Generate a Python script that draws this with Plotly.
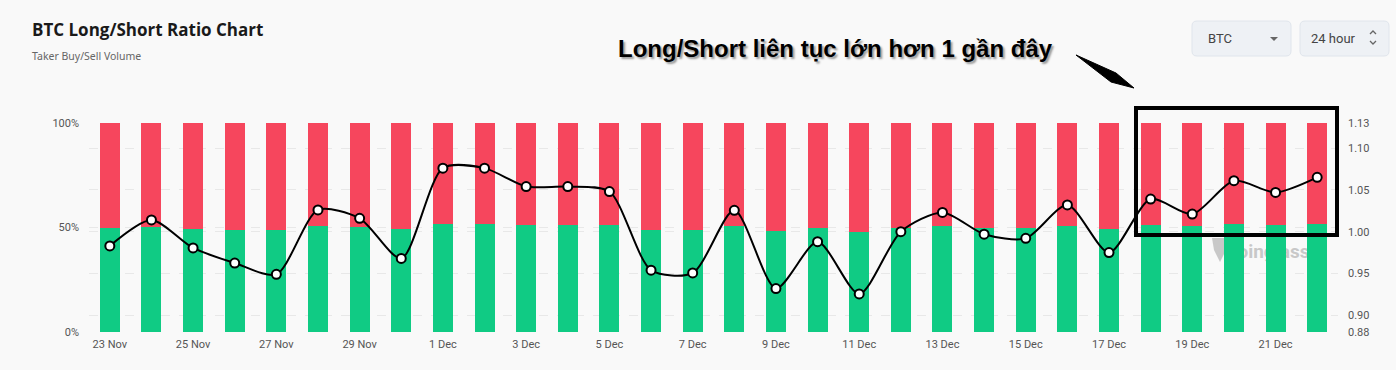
import plotly.graph_objects as go

dates = ["23 Nov", "24 Nov", "25 Nov", "26 Nov", "27 Nov", "28 Nov", "29 Nov", "30 Nov",
         "1 Dec", "2 Dec", "3 Dec", "4 Dec", "5 Dec", "6 Dec", "7 Dec", "8 Dec", "9 Dec",
         "10 Dec", "11 Dec", "12 Dec", "13 Dec", "14 Dec", "15 Dec", "16 Dec", "17 Dec",
         "18 Dec", "19 Dec", "20 Dec", "21 Dec", "22 Dec"]
long_pct = [49.57, 50.35, 49.51, 49.04, 48.69, 50.64, 50.40, 49.19, 51.83, 51.83,
            51.31, 51.31, 51.17, 48.82, 48.73, 50.63, 48.24, 49.70, 48.07, 50.00,
            50.57, 49.92, 49.80, 50.79, 49.37, 50.96, 50.52, 51.48, 51.15, 51.57]
short_pct = [50.43, 49.65, 50.49, 50.96, 51.31, 49.36, 49.60, 50.81, 48.17, 48.17,
             48.69, 48.69, 48.83, 51.18, 51.27, 49.37, 51.76, 50.30, 51.93, 50.00,
             49.43, 50.08, 50.20, 49.21, 50.63, 49.04, 49.48, 48.52, 48.85, 48.43]
ratio = [0.983, 1.014, 0.9805, 0.9625, 0.949, 1.026, 1.016, 0.968, 1.076, 1.076,
         1.054, 1.054, 1.048, 0.954, 0.9506, 1.0256, 0.932, 0.988, 0.9255, 1.000,
         1.023, 0.997, 0.992, 1.032, 0.975, 1.039, 1.021, 1.061, 1.047, 1.065]
left_ticks = [0, 50, 100]
left_labels = ["0%", "50%", "100%"]
right_ticks = [0.88, 0.90, 0.95, 1.00, 1.05, 1.10, 1.13]
right_labels = ["0.88", "0.90", "0.95", "1.00", "1.05", "1.10", "1.13"]

GREEN = "#10cb84"
RED = "#f6465d"
BG = "#f9f9f9"

W, H = 1396, 370
L, R, T, B = 89, 58, 123, 38
PW, PH = W - L - R, H - T - B


def px(x):
    return (x - L) / PW


def py(y):
    return (H - B - y) / PH


idx = list(range(len(dates)))

fig = go.Figure()
fig.add_trace(go.Bar(x=idx, y=long_pct, marker=dict(color=GREEN, line_width=0), name="Long",
                     hoverinfo="skip"))
fig.add_trace(go.Bar(x=idx, y=short_pct, marker=dict(color=RED, line_width=0), name="Short",
                     hoverinfo="skip"))
fig.add_trace(go.Scatter(x=idx, y=ratio, yaxis="y2", mode="lines+markers",
                         line=dict(color="#000000", width=2, shape="spline", smoothing=0.75),
                         marker=dict(size=9, color="#ffffff", line=dict(color="#000000", width=2)),
                         name="Ratio", hoverinfo="skip"))

tick_font = dict(family="Roboto, sans-serif", size=11, color="#555555")

shapes = []
# watermark behind bars
shapes.append(dict(type="rect", xref="paper", yref="paper", x0=px(1232), x1=px(1305),
                   y0=py(262), y1=py(238), line_width=0, fillcolor="rgba(0,0,0,0)", layer="below",
                   label=dict(text="<b>coinglass</b>", font=dict(family="Roboto", size=19, color="#c8c8c8"))))
shapes.append(dict(type="path", xref="paper", yref="paper", layer="below",
                   path="M %f,%f L %f,%f L %f,%f L %f,%f L %f,%f Z" % (
                       px(1212), py(238), px(1228), py(238), px(1226), py(250), px(1220), py(262), px(1214), py(250)),
                   fillcolor="#c8c8c8", line_width=0))
# highlight rectangle
shapes.append(dict(type="rect", xref="paper", yref="paper", x0=px(1136), x1=px(1337),
                   y0=py(235), y1=py(108), line=dict(color="#000000", width=4), fillcolor="rgba(0,0,0,0)"))
# arrow wedge
shapes.append(dict(type="path", xref="paper", yref="paper",
                   path="M %f,%f L %f,%f L %f,%f L %f,%f Z" % (
                       px(1076), py(55), px(1116), py(73), px(1134), py(88), px(1111), py(82)),
                   fillcolor="#000000", line=dict(color="#000000", width=1)))


def rrect(x0, y0, x1, y1, r):
    return ("M %f,%f L %f,%f Q %f,%f %f,%f L %f,%f Q %f,%f %f,%f L %f,%f Q %f,%f %f,%f L %f,%f Q %f,%f %f,%f Z" % (
        px(x0 + r), py(y0), px(x1 - r), py(y0), px(x1), py(y0), px(x1), py(y0 + r),
        px(x1), py(y1 - r), px(x1), py(y1), px(x1 - r), py(y1),
        px(x0 + r), py(y1), px(x0), py(y1), px(x0), py(y1 - r),
        px(x0), py(y0 + r), px(x0), py(y0), px(x0 + r), py(y0)))


for (x0, x1) in [(1192, 1291), (1300, 1389)]:
    shapes.append(dict(type="path", xref="paper", yref="paper", path=rrect(x0, 21, x1, 56, 5),
                       fillcolor="#eef1f5", line=dict(color="#e0e5ec", width=1)))
# caret
shapes.append(dict(type="path", xref="paper", yref="paper",
                   path="M %f,%f L %f,%f L %f,%f Z" % (px(1270), py(37), px(1278), py(37), px(1274), py(41)),
                   fillcolor="#666666", line_width=0))
# up/down chevrons
shapes.append(dict(type="path", xref="paper", yref="paper",
                   path="M %f,%f L %f,%f L %f,%f" % (px(1370), py(34), px(1373), py(31), px(1376), py(34)),
                   line=dict(color="#666666", width=1.3)))
shapes.append(dict(type="path", xref="paper", yref="paper",
                   path="M %f,%f L %f,%f L %f,%f" % (px(1370), py(41), px(1373), py(44), px(1376), py(41)),
                   line=dict(color="#666666", width=1.3)))

annotations = [
    dict(text="<b>BTC Long/Short Ratio Chart</b>", xref="paper", yref="paper", x=px(30), y=py(29),
         xanchor="left", yanchor="middle", showarrow=False,
         font=dict(family="Open Sans, sans-serif", size=17, color="#1a1a1a")),
    dict(text="Taker Buy/Sell Volume", xref="paper", yref="paper", x=px(30), y=py(56),
         xanchor="left", yanchor="middle", showarrow=False,
         font=dict(family="Noto Sans, sans-serif", size=10.5, color="#666666")),
    dict(text="<b>Long/Short liên tục lớn hơn 1 gần đây</b>", xref="paper", yref="paper",
         x=px(835), y=py(48), xanchor="center", yanchor="middle", showarrow=False,
         font=dict(family="Liberation Sans, Arial, sans-serif", size=24, color="#000000",
                   shadow="2px 2px 2px #9a9a9a")),
    dict(text="BTC", xref="paper", yref="paper", x=px(1206), y=py(38.5), xanchor="left", yanchor="middle",
         showarrow=False, font=dict(family="Roboto", size=13, color="#444444")),
    dict(text="24 hour", xref="paper", yref="paper", x=px(1309), y=py(38.5), xanchor="left", yanchor="middle",
         showarrow=False, font=dict(family="Roboto", size=13, color="#444444")),
]

fig.update_layout(
    width=W, height=H,
    margin=dict(l=L, r=R, t=T, b=B, pad=0),
    paper_bgcolor=BG, plot_bgcolor=BG,
    barmode="stack", bargap=0.52,
    showlegend=False,
    xaxis=dict(range=[-0.5, len(dates) - 0.5], tickmode="array",
               tickvals=idx[::2], ticktext=dates[::2], showgrid=False, zeroline=False,
               showline=False, ticks="", tickfont=tick_font, ticklabelstandoff=4),
    yaxis=dict(range=[0, 100], tickmode="array", tickvals=left_ticks, ticktext=left_labels,
               showgrid=True, gridcolor="#e8e8e8", griddash="dash", gridwidth=1, zeroline=False,
               showline=False, ticks="", tickfont=tick_font, ticklabelstandoff=9),
    yaxis2=dict(range=[0.88, 1.13], overlaying="y", side="right", tickmode="array",
                tickvals=right_ticks, ticktext=right_labels, showgrid=True, gridcolor="#e8e8e8",
                griddash="dash", gridwidth=1, zeroline=False, showline=False, ticks="",
                tickfont=tick_font, ticklabelstandoff=9),
    shapes=shapes,
    annotations=annotations,
)

fig.write_html("out.html", config={"displayModeBar": False},
               post_script="document.body.style.margin='0';document.body.style.overflow='hidden';"
                           "document.body.style.background='%s';" % BG)
